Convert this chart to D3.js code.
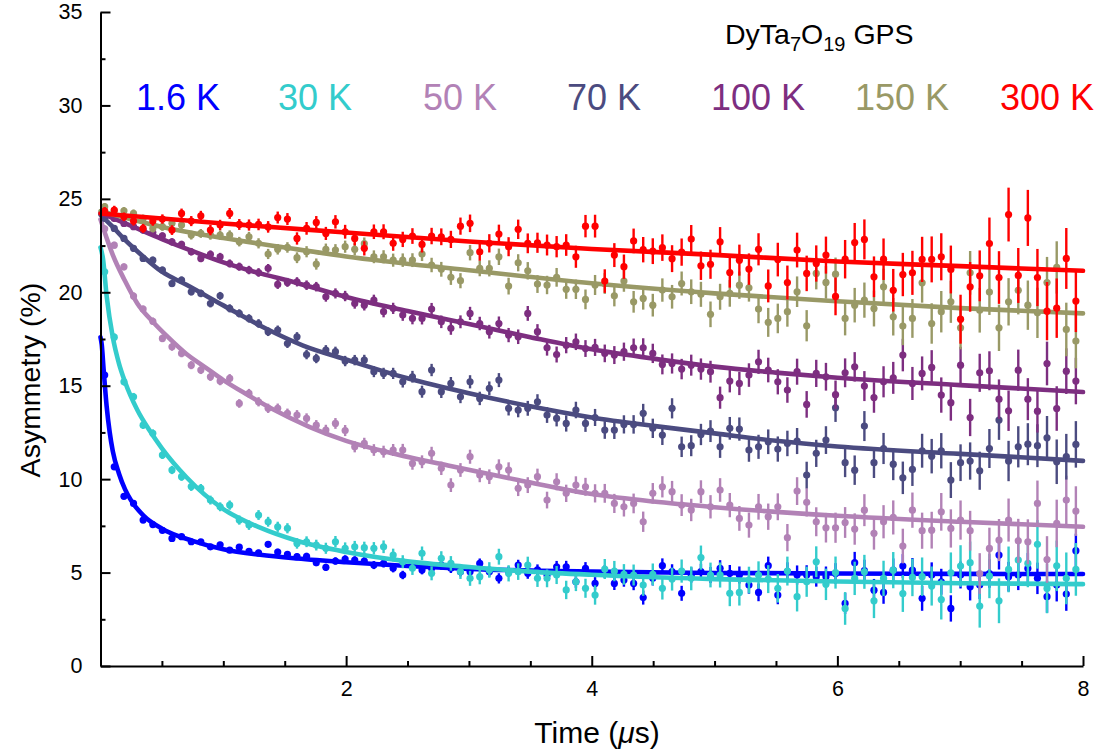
<!DOCTYPE html>
<html>
<head>
<meta charset="utf-8">
<script src="https://cdn.jsdelivr.net/npm/d3@7/dist/d3.min.js"></script>
<style>
  html, body { margin: 0; padding: 0; background: #ffffff; }
  svg { display: block; font-family: "Liberation Sans", Arial, sans-serif; }
</style>
</head>
<body>
<svg id="chart" width="1104" height="756"></svg>
<script>
// ---- muon time bins (µs) ----
const times = [
  0.034, 0.112, 0.191, 0.269, 0.347, 0.426, 0.504, 0.582, 0.660, 0.739,
  0.817, 0.895, 0.974, 1.052, 1.130, 1.209, 1.287, 1.365, 1.443, 1.522,
  1.600, 1.678, 1.757, 1.835, 1.913, 1.992, 2.070, 2.148, 2.226, 2.305,
  2.383, 2.461, 2.540, 2.618, 2.696, 2.775, 2.853, 2.931, 3.009, 3.088,
  3.166, 3.244, 3.323, 3.401, 3.479, 3.558, 3.636, 3.714, 3.792, 3.871,
  3.949, 4.027, 4.106, 4.184, 4.262, 4.341, 4.419, 4.497, 4.575, 4.654,
  4.732, 4.810, 4.889, 4.967, 5.045, 5.124, 5.202, 5.280, 5.358, 5.437,
  5.515, 5.593, 5.672, 5.750, 5.828, 5.907, 5.985, 6.063, 6.141, 6.220,
  6.298, 6.376, 6.455, 6.533, 6.611, 6.690, 6.768, 6.846, 6.924, 7.003,
  7.081, 7.159, 7.238, 7.316, 7.394, 7.473, 7.551, 7.629, 7.707, 7.786,
  7.864, 7.942
];

// ---- statistical error of each bin (asymmetry %, 300 K run) ----
const errBar = [
  0.22, 0.23, 0.23, 0.24, 0.24, 0.25, 0.25, 0.26, 0.26, 0.27,
  0.27, 0.28, 0.28, 0.29, 0.29, 0.30, 0.31, 0.31, 0.32, 0.32,
  0.33, 0.34, 0.34, 0.35, 0.36, 0.37, 0.37, 0.38, 0.39, 0.40,
  0.40, 0.41, 0.42, 0.43, 0.44, 0.45, 0.46, 0.46, 0.47, 0.48,
  0.49, 0.50, 0.51, 0.52, 0.53, 0.54, 0.56, 0.57, 0.58, 0.59,
  0.60, 0.61, 0.63, 0.64, 0.65, 0.66, 0.68, 0.69, 0.71, 0.72,
  0.73, 0.75, 0.76, 0.78, 0.79, 0.81, 0.83, 0.84, 0.86, 0.88,
  0.90, 0.91, 0.93, 0.95, 0.97, 0.99, 1.01, 1.03, 1.05, 1.07,
  1.09, 1.11, 1.14, 1.16, 1.18, 1.21, 1.23, 1.26, 1.28, 1.31,
  1.33, 1.36, 1.39, 1.41, 1.44, 1.47, 1.50, 1.53, 1.56, 1.59,
  1.63, 1.66
];

// ---- temperatures, colours, relative error size ----
const temps    = ["1.6 K", "30 K", "50 K", "70 K", "100 K", "150 K", "300 K"];
const colors   = ["#0000ff", "#33cccc", "#b282b6", "#4b4b80", "#7d2e80", "#999966", "#ff0000"];
const errScale = [0.55, 0.85, 0.8, 0.75, 0.75, 0.88, 1.0];

// ---- measured asymmetry (%) ----
const asym1p6K = [
  15.57, 10.66, 9.08, 8.70, 7.81, 7.57, 7.26, 6.83, 6.92, 6.65, 6.65, 6.38, 6.49, 6.20, 6.36, 6.13, 6.05, 6.51, 6.10, 5.97, 5.85, 5.87, 5.53, 5.28, 5.62, 5.72,
  5.67, 5.62, 5.40, 5.49, 5.23, 4.87, 5.40, 5.14, 5.23, 5.40, 5.23, 5.05, 5.05, 5.49, 5.05, 4.69, 5.05, 5.40, 4.96, 5.14, 4.87, 5.31, 5.31, 4.51, 5.23, 4.42,
  5.05, 4.42, 4.60, 4.42, 3.66, 4.69, 5.37, 5.05, 3.89, 4.87, 5.05, 4.87, 5.23, 4.96, 4.87, 4.33, 3.94, 5.37, 3.80, 5.05, 4.87, 4.87, 4.78, 4.78, 4.95,
  3.35, 5.53, 5.10, 4.06, 3.94, 5.13, 5.35, 5.13, 3.62, 4.87, 4.51, 3.08, 4.87, 4.24, 4.33, 4.95, 5.94, 4.78, 4.87, 5.22, 4.69, 3.71, 4.33, 3.85, 6.17
];
const asym30K = [
  21.10, 17.60, 15.21, 14.41, 12.89, 12.45, 11.29, 10.49, 10.13, 9.60, 9.51, 8.88, 8.52, 8.61, 7.81, 7.54, 8.08, 7.72, 7.45, 7.37, 6.56, 6.65, 6.47, 6.30, 6.65, 6.30,
  6.38, 6.33, 6.30, 6.38, 5.94, 5.58, 5.23, 6.03, 4.96, 5.76, 5.49, 5.05, 4.69, 4.78, 5.14, 5.85, 4.96, 5.05, 5.40, 4.69, 4.69, 4.87, 4.07, 4.51, 4.16, 3.80,
  5.19, 5.08, 4.90, 4.87, 4.33, 4.90, 4.16, 4.65, 5.08, 4.69, 5.80, 4.87, 4.87, 3.89, 3.94, 4.60, 4.87, 4.65, 4.16, 5.08, 3.71, 4.51, 5.58, 4.37, 5.00,
  3.08, 4.69, 5.04, 3.49, 4.69, 5.13, 3.88, 4.74, 4.78, 4.28, 3.56, 4.99, 5.35, 5.53, 3.21, 4.81, 3.49, 5.17, 5.67, 5.49, 6.51, 4.15, 5.36, 4.69, 5.17
];
const asym50K = [
  23.40, 22.52, 21.36, 19.80, 19.10, 18.45, 17.53, 17.08, 16.73, 16.10, 15.84, 15.48, 15.25, 15.39, 14.05, 14.59, 14.14, 13.79, 13.79, 13.52, 13.43, 13.25, 12.89, 12.63, 12.98, 12.60,
  11.73, 11.91, 11.56, 11.47, 11.56, 11.56, 10.84, 10.93, 11.38, 10.58, 9.68, 10.49, 11.20, 10.22, 10.13, 10.66, 10.49, 9.51, 9.68, 10.13, 8.88, 9.86, 9.24, 9.68, 9.59, 9.24,
  9.24, 8.70, 8.52, 8.70, 7.72, 9.24, 9.59, 9.33, 8.61, 8.35, 9.33, 8.52, 9.42, 8.61, 7.90, 7.54, 8.52, 7.99, 8.52, 6.87, 9.36, 8.76, 7.72, 7.40, 7.40,
  7.68, 7.33, 8.34, 7.10, 7.72, 7.95, 6.42, 8.34, 7.24, 7.27, 8.25, 7.36, 7.81, 7.24, 4.95, 6.29, 6.74, 7.81, 6.70, 6.65, 8.70, 5.70, 7.63, 8.88, 8.29
];
const asym70K = [
  23.95, 23.42, 22.88, 22.35, 21.81, 21.72, 21.19, 20.47, 20.65, 20.03, 19.94, 19.40, 19.81, 19.14, 18.87, 18.60, 18.33, 17.89, 17.98, 17.26, 17.62, 16.67, 16.46, 16.91, 16.82, 16.32,
  16.37, 16.37, 15.75, 15.66, 15.66, 15.21, 15.48, 14.68, 15.84, 14.68, 15.12, 14.41, 15.21, 14.32, 14.86, 15.30, 13.79, 13.70, 13.79, 14.14, 13.43, 13.25, 12.98, 13.70, 12.98, 13.30,
  12.63, 12.63, 12.93, 12.93, 13.52, 12.72, 12.36, 13.79, 11.73, 11.79, 12.39, 12.57, 11.73, 12.72, 12.68, 11.56, 11.73, 12.00, 11.61, 11.91, 12.04, 10.22, 11.38, 12.09, 13.82,
  10.88, 10.48, 12.84, 10.88, 11.64, 10.80, 10.07, 10.52, 11.52, 11.23, 11.52, 9.95, 10.88, 10.97, 10.45, 11.64, 13.16, 10.97, 11.73, 11.87, 11.79, 12.21, 10.93, 11.20, 11.86
];
const asym100K = [
  24.22, 23.95, 23.68, 23.51, 23.33, 23.20, 23.02, 22.70, 22.56, 22.17, 21.81, 22.03, 21.90, 21.54, 21.37, 21.19, 21.06, 21.28, 20.42, 20.53, 20.56, 20.38, 20.30, 19.76, 19.94, 19.80,
  19.40, 19.31, 19.58, 18.96, 19.14, 18.78, 18.60, 18.60, 19.10, 18.42, 18.07, 18.42, 18.87, 18.33, 17.89, 18.33, 17.71, 17.62, 18.87, 17.89, 17.03, 16.67, 17.17, 17.35, 16.99, 17.05,
  16.73, 16.64, 16.82, 17.03, 17.03, 16.73, 16.14, 16.19, 15.89, 16.10, 15.89, 15.75, 14.36, 15.25, 15.12, 15.57, 16.28, 15.84, 15.21, 14.77, 15.75, 14.00, 15.66, 15.48, 14.52,
  15.69, 16.01, 14.98, 14.37, 15.21, 15.42, 16.64, 15.12, 15.66, 15.98, 14.50, 14.09, 16.10, 13.30, 15.69, 15.80, 14.28, 13.66, 15.83, 14.28, 13.64, 16.19, 13.78, 15.78, 15.25
];
const asym150K = [
  24.58, 24.36, 24.36, 24.22, 23.95, 23.42, 23.51, 23.69, 23.60, 23.06, 23.15, 23.06, 23.06, 23.06, 22.71, 22.97, 22.62, 22.05, 22.30, 22.40, 21.85, 22.17, 21.51, 22.30, 22.26, 22.44,
  22.30, 22.60, 21.90, 21.90, 21.72, 21.72, 21.72, 22.05, 21.46, 21.23, 20.80, 20.62, 22.12, 21.28, 21.28, 21.90, 20.33, 21.58, 21.15, 20.44, 20.39, 20.80, 20.16, 20.16, 19.62, 20.39,
  20.47, 19.81, 20.60, 19.49, 19.67, 19.31, 20.12, 19.76, 20.47, 20.03, 19.89, 18.82, 19.76, 19.94, 20.38, 20.24, 19.10, 18.39, 18.60, 18.96, 20.03, 18.21, 21.01, 20.53, 20.97,
  18.60, 19.31, 19.58, 19.13, 20.29, 18.69, 18.19, 18.60, 20.51, 18.33, 18.96, 19.49, 18.10, 21.04, 19.04, 20.01, 18.10, 19.49, 20.11, 19.31, 18.90, 20.52, 21.33, 18.01, 17.39
];
const asym300K = [
  24.34, 24.40, 24.04, 23.81, 23.42, 23.81, 23.92, 23.33, 24.22, 23.81, 24.09, 23.33, 23.60, 24.22, 23.63, 23.60, 23.63, 23.50, 24.00, 23.92, 22.88, 23.42, 23.74, 23.15, 23.77, 23.24,
  22.88, 22.35, 23.24, 23.24, 22.62, 22.83, 23.01, 22.56, 23.01, 22.97, 22.83, 23.54, 23.69, 22.17, 22.62, 23.12, 22.44, 23.37, 22.62, 22.65, 22.53, 22.44, 22.53, 21.90, 23.54, 23.54,
  20.60, 21.99, 21.37, 22.75, 22.28, 22.20, 22.39, 21.80, 22.15, 22.85, 21.42, 21.50, 22.70, 21.06, 21.72, 21.24, 22.30, 20.34, 21.75, 20.52, 22.26, 21.01, 21.54, 21.99, 19.78,
  21.77, 22.66, 22.83, 20.83, 21.77, 20.11, 20.95, 21.04, 21.76, 21.76, 21.90, 21.22, 18.56, 20.29, 20.88, 22.61, 20.79, 24.16, 20.90, 23.98, 20.79, 18.99, 19.15, 21.81, 19.53
];

// ---- fitted relaxation curves (time µs, asymmetry %) ----
const fitT1p6K = [0, 0.01, 0.025, 0.05, 0.075, 0.1, 0.15, 0.2, 0.25, 0.35, 0.5, 0.75, 1, 1.3, 1.6, 2, 2.5, 3, 4, 5, 6, 7, 8];
const fitA1p6K = [17.6, 17.2, 15.9, 13.9, 12.5, 11.5, 10.3, 9.45, 8.85, 8.05, 7.35, 6.7, 6.25, 5.95, 5.75, 5.55, 5.35, 5.2, 5.05, 4.98, 4.95, 4.93, 4.92];
const fitT30K  = [0, 0.02, 0.05, 0.1, 0.15, 0.2, 0.3, 0.4, 0.5, 0.7, 1, 1.3, 1.6, 2, 2.5, 3, 3.5, 4, 5, 6, 7, 8];
const fitA30K  = [22.4, 21.8, 19.8, 17.6, 16.2, 15.2, 13.7, 12.6, 11.65, 10.1, 8.4, 7.4, 6.7, 6.1, 5.6, 5.3, 5.05, 4.88, 4.65, 4.52, 4.43, 4.38];
const fitT50K  = [0, 0.05, 0.1, 0.2, 0.3, 0.43, 0.55, 0.7, 0.85, 1, 1.2, 1.4, 1.7, 2, 2.4, 2.85, 3.4, 4, 4.5, 5, 6, 7, 8];
const fitA50K  = [23.9, 22.9, 22.0, 20.6, 19.4, 18.4, 17.6, 16.7, 16.0, 15.3, 14.5, 13.75, 12.8, 12.05, 11.35, 10.7, 9.95, 9.2, 8.8, 8.5, 8.04, 7.72, 7.45];
const fitT70K  = [0, 0.1, 0.2, 0.35, 0.5, 0.7, 1, 1.35, 1.65, 2, 2.5, 3, 3.5, 4, 4.5, 5, 5.5, 6, 7, 8];
const fitA70K  = [24.15, 23.5, 22.8, 21.9, 21.1, 20.4, 19.3, 18.05, 17.15, 16.4, 15.4, 14.6, 13.9, 13.3, 12.85, 12.45, 12.05, 11.75, 11.35, 10.98];
const fitT100K = [0, 0.25, 0.5, 0.75, 1, 1.25, 1.6, 2, 2.5, 3, 3.5, 4, 4.5, 5, 5.5, 6, 7, 8];
const fitA100K = [24.25, 23.55, 22.85, 22.2, 21.6, 21.1, 20.5, 19.75, 19.0, 18.3, 17.6, 16.95, 16.45, 16.02, 15.7, 15.43, 15.03, 14.66];
const fitT150K = [0, 0.5, 1, 1.5, 2, 3, 4, 5, 6, 7, 8];
const fitA150K = [24.35, 23.5, 22.9, 22.4, 21.92, 21.18, 20.48, 19.94, 19.52, 19.15, 18.87];
const fitT300K = [0, 1, 2, 3, 4, 5, 6, 7, 8];
const fitA300K = [24.22, 23.68, 23.2, 22.72, 22.32, 22.0, 21.65, 21.4, 21.15];

// ---- axis ticks ----
const xMajorTicks = [2, 4, 6, 8];
const xMinorTicks = [0.5, 1, 1.5, 2.5, 3, 3.5, 4.5, 5, 5.5, 6.5, 7, 7.5];
const yMajorTicks = [0, 5, 10, 15, 20, 25, 30, 35];
const yMinorTicks = [2.5, 7.5, 12.5, 17.5, 22.5, 27.5, 32.5];

const measured = [asym1p6K, asym30K, asym50K, asym70K, asym100K, asym150K, asym300K];
const fitTimes = [fitT1p6K, fitT30K, fitT50K, fitT70K, fitT100K, fitT150K, fitT300K];
const fitAsym  = [fitA1p6K, fitA30K, fitA50K, fitA70K, fitA100K, fitA150K, fitA300K];

// ---- layout ----
const svg = d3.select("#chart");
const x = d3.scaleLinear().domain([0, 8]).range([100.5, 1083]);
const y = d3.scaleLinear().domain([0, 35]).range([666, 12]);

// ---- series: error bars, markers, fit line ----
const line = d3.line()
  .x(d => x(d[0]))
  .y(d => y(d[1]))
  .curve(d3.curveMonotoneX);

temps.forEach((name, s) => {
  const g = svg.append("g").attr("class", "series");
  const pts = times.map((t, k) => ({ t, a: measured[s][k], e: errBar[k] * errScale[s] }));

  g.selectAll("line.err").data(pts).join("line")
    .attr("class", "err")
    .attr("x1", d => x(d.t)).attr("x2", d => x(d.t))
    .attr("y1", d => y(d.a - d.e)).attr("y2", d => y(d.a + d.e))
    .attr("stroke", colors[s]).attr("stroke-width", 2.4);

  g.selectAll("circle").data(pts).join("circle")
    .attr("cx", d => x(d.t)).attr("cy", d => y(d.a))
    .attr("r", 3.6)
    .attr("fill", colors[s]);

  g.append("path")
    .datum(fitTimes[s].map((t, i) => [t, fitAsym[s][i]]))
    .attr("d", line)
    .attr("fill", "none")
    .attr("stroke", colors[s])
    .attr("stroke-width", 4.6)
    .attr("stroke-linecap", "round");
});

// ---- axes (ticks point into the plot) ----
const axisStyle = g => {
  g.selectAll("path, line").attr("stroke", "#000").attr("stroke-width", 2);
  g.selectAll("text").attr("fill", "#000").attr("font-size", 21.5)
    .attr("font-family", "'Liberation Sans', Arial, sans-serif");
};

svg.append("g")
  .attr("transform", "translate(0,666)")
  .call(d3.axisBottom(x).tickValues(xMinorTicks).tickSize(-5).tickFormat(""))
  .call(g => g.select(".domain").remove())
  .call(axisStyle);
svg.append("g")
  .attr("transform", "translate(0,666)")
  .call(d3.axisBottom(x).tickValues(xMajorTicks).tickSizeInner(-10).tickSizeOuter(0).tickPadding(15).tickFormat(d3.format("d")))
  .call(axisStyle);

svg.append("g")
  .attr("transform", "translate(100.5,0)")
  .call(d3.axisLeft(y).tickValues(yMinorTicks).tickSize(-5).tickFormat(""))
  .call(g => g.select(".domain").remove())
  .call(axisStyle);
svg.append("g")
  .attr("transform", "translate(100.5,0)")
  .call(d3.axisLeft(y).tickValues(yMajorTicks).tickSizeInner(-10).tickSizeOuter(0).tickPadding(18).tickFormat(d3.format("d")))
  .call(axisStyle);

// ---- axis titles ----
const xt = svg.append("text")
  .attr("x", 597).attr("y", 743)
  .attr("text-anchor", "middle")
  .attr("font-size", 30).attr("fill", "#000");
xt.append("tspan").text("Time (");
xt.append("tspan").attr("font-style", "italic").text("\u03bc");
xt.append("tspan").text("s)");

svg.append("text")
  .attr("transform", "translate(40,380) rotate(-90)")
  .attr("text-anchor", "middle")
  .attr("font-size", 28.5).attr("fill", "#000")
  .text("Asymmetry (%)");

// ---- sample title ----
const title = svg.append("text")
  .attr("x", 725).attr("y", 44)
  .attr("font-size", 28.5).attr("fill", "#000");
title.append("tspan").text("DyTa");
title.append("tspan").attr("font-size", 20).attr("dy", 7).text("7");
title.append("tspan").attr("dy", -7).text("O");
title.append("tspan").attr("font-size", 20).attr("dy", 7).text("19");
title.append("tspan").attr("dy", -7).text(" GPS");

// ---- temperature legend ----
const legendX = [136, 278, 423, 567, 711, 855, 1000];
temps.forEach((name, s) => {
  svg.append("text")
    .attr("x", legendX[s]).attr("y", 110)
    .attr("font-size", 36)
    .attr("fill", colors[s])
    .text(name);
});
</script>
</body>
</html>
